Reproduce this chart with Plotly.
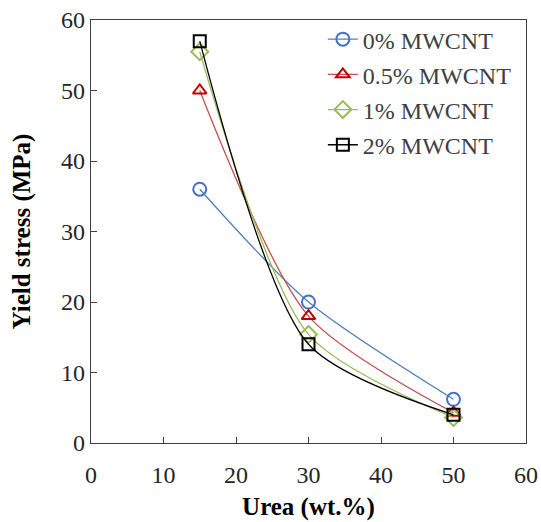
import plotly.graph_objects as go

urea = [15, 30, 50]
mw0 = [36.0, 20.0, 6.2]
mw05 = [50.0, 18.0, 4.3]
mw1 = [55.5, 15.4, 3.6]
mw2 = [57.0, 14.0, 4.0]

names = ["0% MWCNT", "0.5% MWCNT", "1% MWCNT", "2% MWCNT"]
series = [mw0, mw05, mw1, mw2]
colors = ["#4F81BD", "#C0504D", "#9BBB59", "#000000"]
mcolors = ["#4472C4", "#C00000", "#9BBB59", "#000000"]
symbols = ["circle-open", "triangle-up-open", "diamond-open", "square-open"]
sizes = [13, 12, 13, 12]

FONT = "Liberation Serif, Times New Roman, serif"

fig = go.Figure()
for i, (n, s) in enumerate(zip(names, series)):
    fig.add_trace(go.Scatter(
        x=urea, y=s, name=n, mode="lines+markers",
        line=dict(color=colors[i], width=1.3, shape="spline", smoothing=0.75),
        marker=dict(symbol=symbols[i], size=sizes[i],
                    color=mcolors[i], line=dict(width=2, color=mcolors[i])),
        legendgroup=str(i),
    ))

axis_common = dict(
    showline=True, linecolor="#404040", linewidth=1.3, mirror=True,
    ticks="inside", ticklen=6, tickcolor="#404040", tickwidth=1,
    showgrid=False, zeroline=False, automargin=False,
    tickfont=dict(family=FONT, size=24, color="#262626"),
)

fig.update_layout(
    width=541, height=522,
    margin=dict(l=91, r=15, t=20, b=79),
    plot_bgcolor="white", paper_bgcolor="white",
    xaxis=dict(range=[0, 60], dtick=10, ticklabelstandoff=10, **axis_common,
               title=dict(text="<b>Urea (wt.%)</b>", standoff=10,
                          font=dict(family=FONT, size=25, color="#000000"))),
    yaxis=dict(range=[0, 60], dtick=10, **axis_common,
               title=dict(text="<b>Yield stress (MPa)</b>", standoff=23,
                          font=dict(family=FONT, size=25, color="#000000"))),
    legend=dict(x=0.533, y=1.007, xanchor="left", yanchor="top",
                bgcolor="rgba(0,0,0,0)", traceorder="grouped", tracegroupgap=1,
                font=dict(family=FONT, size=24, color="#404040")),
)

fig.write_html("out.html", config={"displayModeBar": False},
               post_script="document.body.style.margin='0px';")
